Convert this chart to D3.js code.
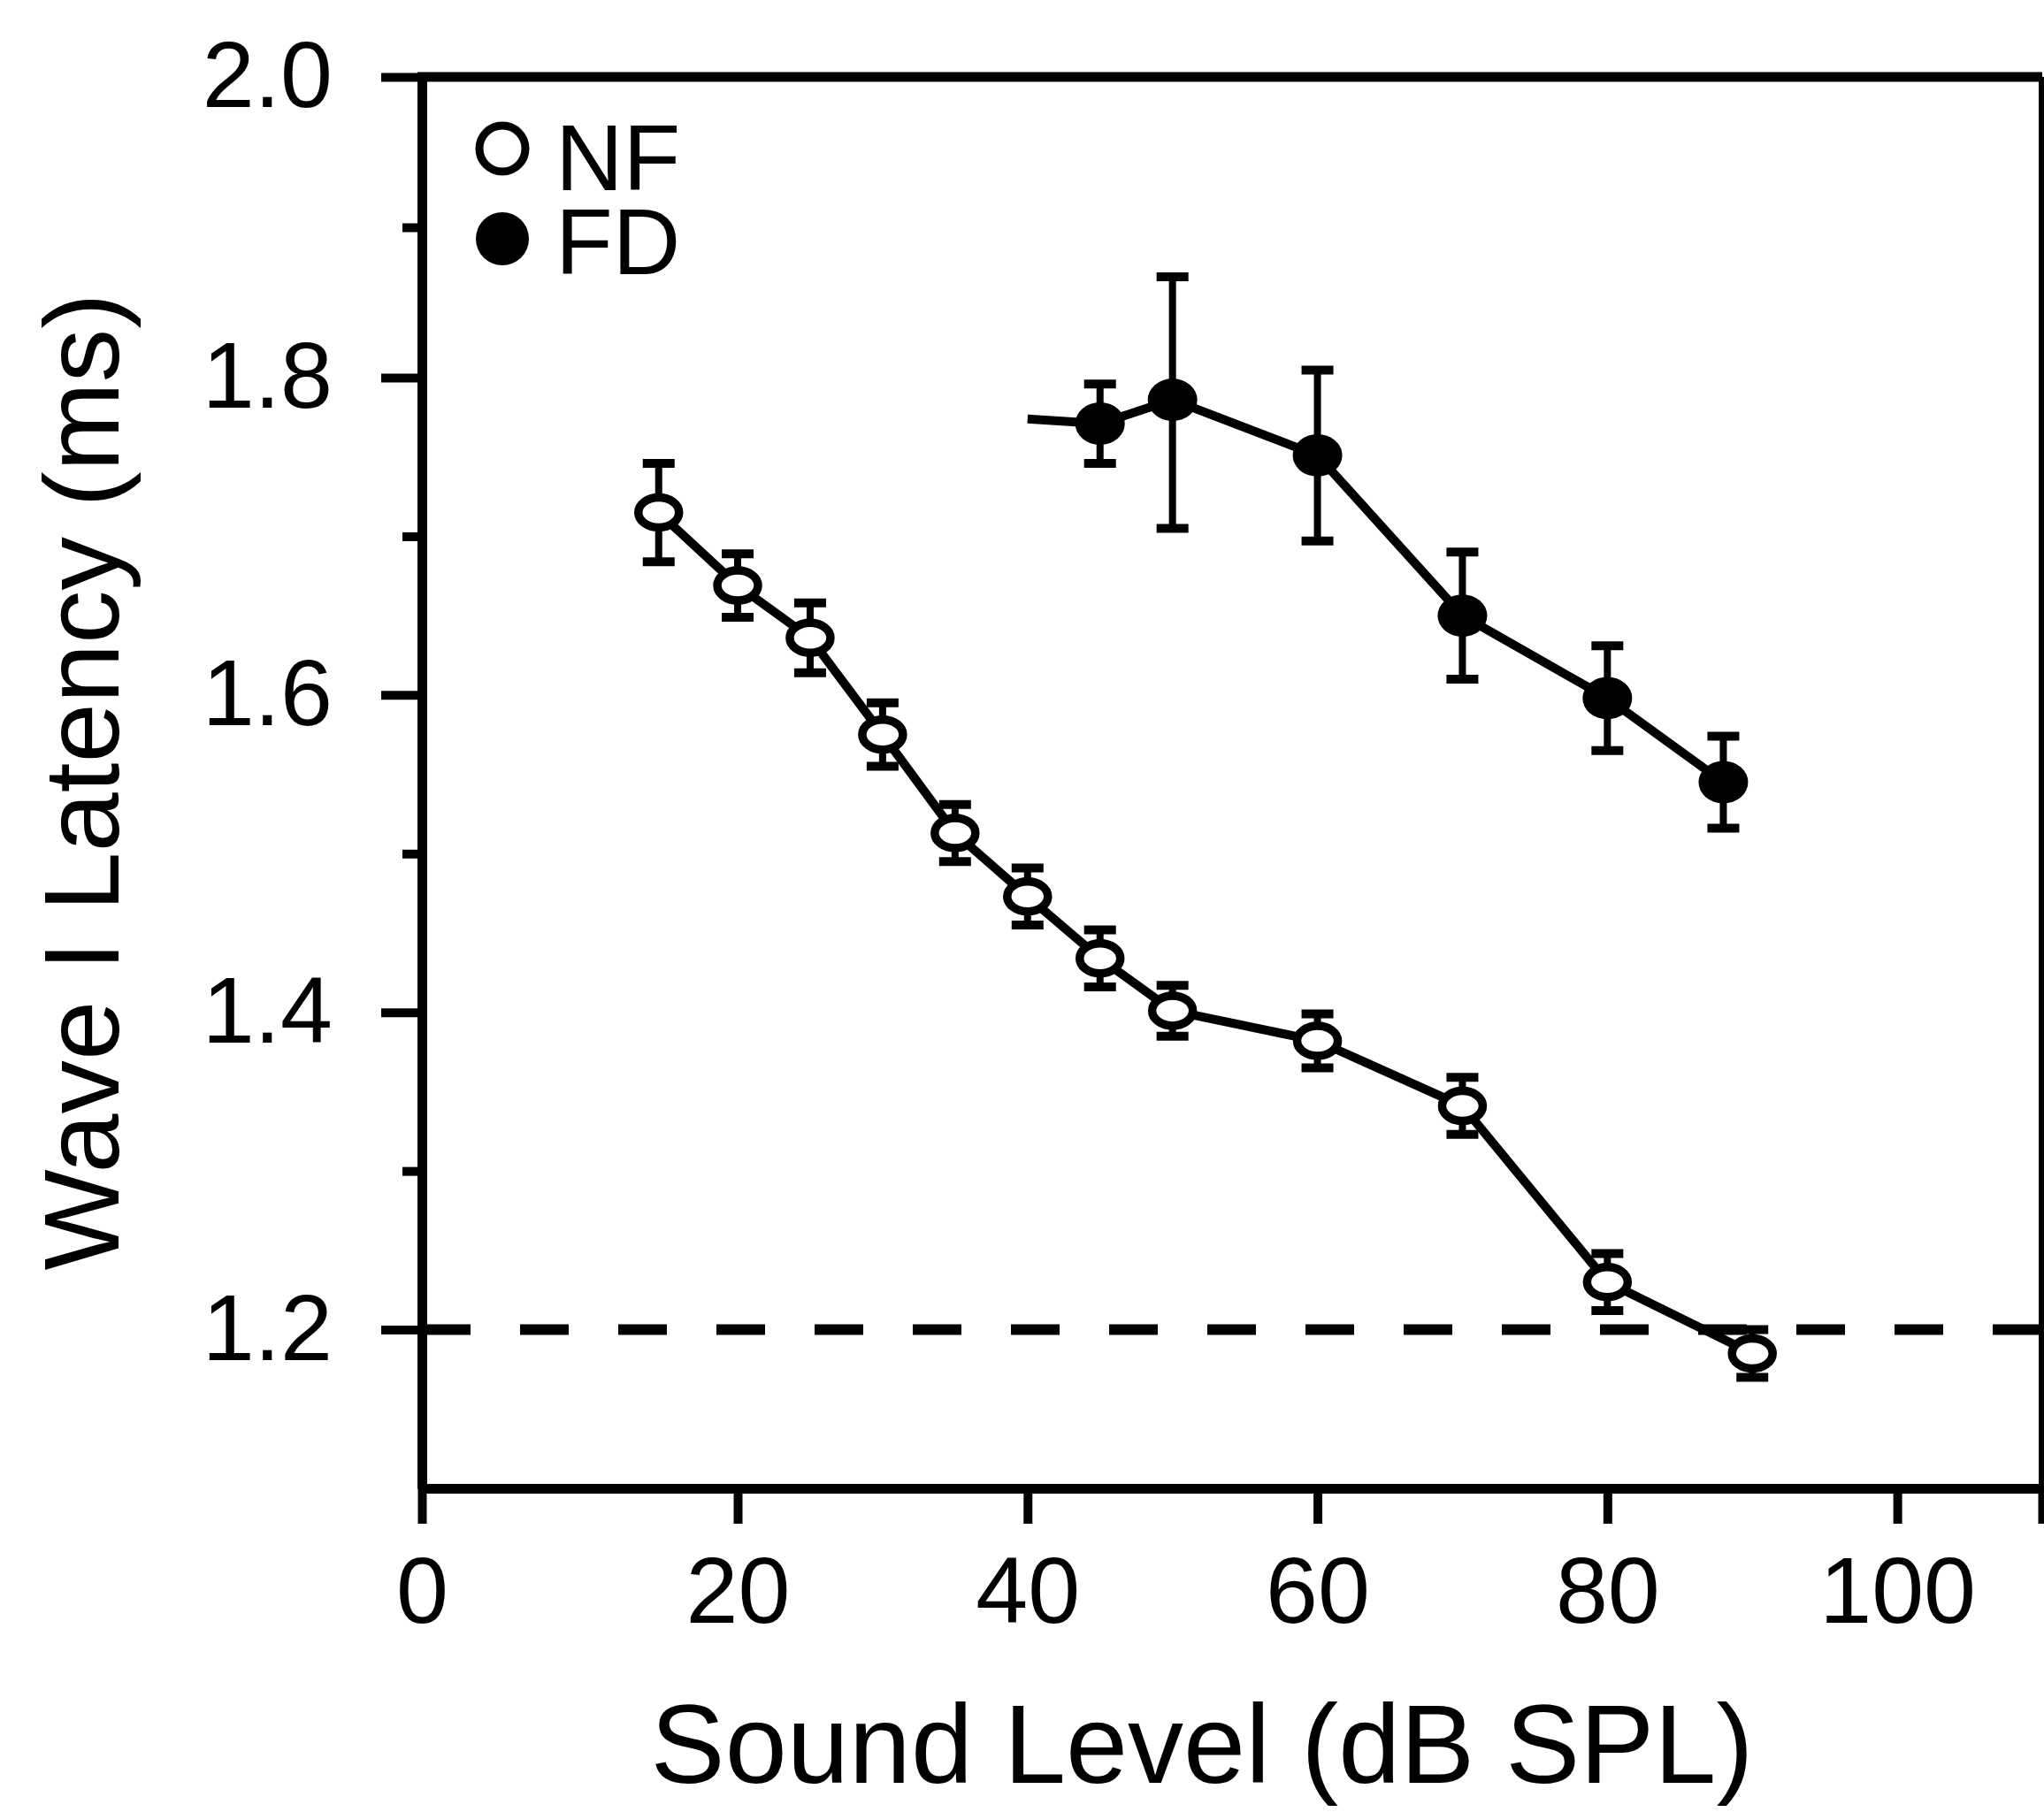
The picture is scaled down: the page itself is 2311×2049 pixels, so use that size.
<!DOCTYPE html>
<html>
<head>
<meta charset="utf-8">
<script src="https://cdn.jsdelivr.net/npm/d3@7"></script>
<style>
  body { margin: 0; background: #fff; }
  svg { display: block; font-family: "Liberation Sans", Arial, sans-serif; }
</style>
</head>
<body>
<svg id="chart"></svg>
<script>
// NF group (open circles)
var nfLevels = [15, 20, 25, 30, 35, 40, 45, 50, 60, 70, 80, 90];
var nfLatency = [1.715, 1.669, 1.636, 1.575, 1.513, 1.473, 1.434, 1.401, 1.382, 1.341, 1.230, 1.185];
var nfErr = [0.031, 0.020, 0.022, 0.020, 0.018, 0.018, 0.018, 0.016, 0.017, 0.018, 0.018, 0.015];

// FD group (filled circles), the line starts at 40 dB without a marker
var fdLevels = [40, 45, 50, 60, 70, 80, 88];
var fdLatency = [1.774, 1.771, 1.786, 1.751, 1.650, 1.598, 1.545];
var fdErr = [null, 0.025, 0.081, 0.054, 0.040, 0.033, 0.029];

var xTicks = [0, 20, 40, 60, 80, 100, 110];
var yTicks = [1.2, 1.4, 1.6, 1.8, 2.0];
var yMinorTicks = [1.3, 1.5, 1.7, 1.9];
var refLatency = 1.2;

const width = 2311, height = 2049;
var svg = d3.select("#chart").attr("width", width).attr("height", height);

// scales (piecewise, the printed axes are not quite even)
var x = d3.scaleLinear().domain([0, 20, 110]).range([477, 834, 2309]);
var y = d3.scaleLinear().domain([1.1, 1.8, 2.0]).range([1683, 427, 87]);

var nf = nfLevels.map((d, i) => ({level: d, lat: nfLatency[i], err: nfErr[i]}));
var fd = fdLevels.map((d, i) => ({level: d, lat: fdLatency[i], err: fdErr[i]}));

var tickFont = 106;

// x axis
var xAxis = svg.append("g").attr("transform", `translate(0, ${y(1.1)})`)
  .call(d3.axisBottom(x).tickValues(xTicks).tickSize(40).tickSizeOuter(0).tickPadding(37));
xAxis.selectAll(".tick text").filter(d => d === 110).remove();

// y axis, major and minor ticks
var yAxis = svg.append("g").attr("transform", `translate(${x(0)}, 0)`)
  .call(d3.axisLeft(y).tickValues(yTicks).tickSize(46).tickSizeOuter(0).tickPadding(55)
    .tickFormat(d3.format(".1f")));
var yMinor = svg.append("g").attr("transform", `translate(${x(0)}, 0)`)
  .call(d3.axisLeft(y).tickValues(yMinorTicks).tickSize(22));
yMinor.select(".domain").remove();
yMinor.selectAll(".tick text").remove();

[xAxis, yAxis, yMinor].forEach(g => {
  g.attr("font-family", null).attr("font-size", null);
  g.select(".domain").attr("stroke", "#000").attr("stroke-width", 11);
  g.selectAll(".tick line").attr("stroke", "#000").attr("stroke-width", 10);
  g.selectAll(".tick text").attr("fill", "#000").attr("font-size", tickFont);
});

// frame top and right
svg.append("line").attr("x1", x(0) - 5).attr("x2", x(110)).attr("y1", y(2.0)).attr("y2", y(2.0))
  .attr("stroke", "#000").attr("stroke-width", 11);
svg.append("line").attr("x1", x(110)).attr("x2", x(110)).attr("y1", y(2.0)).attr("y2", y(1.1))
  .attr("stroke", "#000").attr("stroke-width", 8);

// reference dashed line
svg.append("line").attr("x1", x(0)).attr("x2", x(110)).attr("y1", y(refLatency)).attr("y2", y(refLatency))
  .attr("stroke", "#000").attr("stroke-width", 12).attr("stroke-dasharray", "55,56");

var line = d3.line().x(d => x(d.level)).y(d => y(d.lat));

function drawSeries(data, filled) {
  var g = svg.append("g");
  g.append("path").datum(data).attr("d", line).attr("fill", "none")
    .attr("stroke", "#000").attr("stroke-width", 10).attr("stroke-linejoin", "round");

  var withErr = data.filter(d => d.err != null);
  var bars = g.selectAll(".err").data(withErr).join("g").attr("class", "err");
  bars.append("line").attr("x1", d => x(d.level)).attr("x2", d => x(d.level))
    .attr("y1", d => y(d.lat + d.err)).attr("y2", d => y(d.lat - d.err))
    .attr("stroke", "#000").attr("stroke-width", 8);
  [1, -1].forEach(s => {
    bars.append("line").attr("x1", d => x(d.level) - 18).attr("x2", d => x(d.level) + 18)
      .attr("y1", d => y(d.lat + s * d.err)).attr("y2", d => y(d.lat + s * d.err))
      .attr("stroke", "#000").attr("stroke-width", 10);
  });

  g.selectAll(".pt").data(withErr).join("ellipse").attr("class", "pt")
    .attr("cx", d => x(d.level)).attr("cy", d => y(d.lat))
    .attr("rx", filled ? 28 : 23).attr("ry", filled ? 24 : 17)
    .attr("fill", filled ? "#000" : "#fff")
    .attr("stroke", filled ? "none" : "#000").attr("stroke-width", 9.5);
}

drawSeries(nf, false);
drawSeries(fd, true);

// legend
var legend = svg.append("g");
legend.append("circle").attr("cx", 568).attr("cy", 168).attr("r", 26)
  .attr("fill", "#fff").attr("stroke", "#000").attr("stroke-width", 9);
legend.append("circle").attr("cx", 568).attr("cy", 270).attr("r", 30).attr("fill", "#000");
legend.append("text").attr("x", 628).attr("y", 215).attr("font-size", tickFont).text("NF");
legend.append("text").attr("x", 628).attr("y", 310).attr("font-size", tickFont).text("FD");

// axis titles
svg.append("text").attr("transform", "translate(134, 884) rotate(-90)")
  .attr("text-anchor", "middle").attr("font-size", 121).text("Wave I Latency (ms)");
svg.append("text").attr("x", 1359).attr("y", 2016)
  .attr("text-anchor", "middle").attr("font-size", 126).text("Sound Level (dB SPL)");
</script>
</body>
</html>
